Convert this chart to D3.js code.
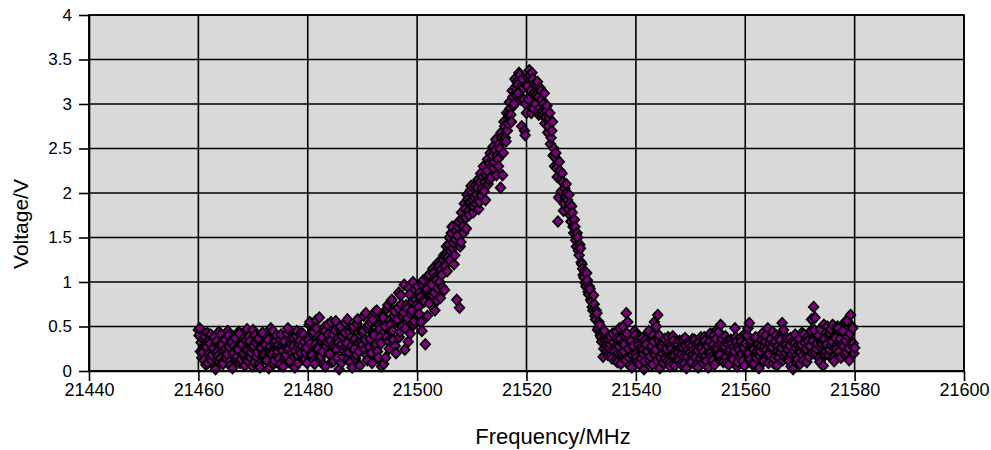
<!DOCTYPE html>
<html>
<head>
<meta charset="utf-8">
<script src="https://cdn.jsdelivr.net/npm/d3@7"></script>
<style>
  html, body { margin: 0; padding: 0; background: #fff; }
  svg { display: block; font-family: "Liberation Sans", Arial, sans-serif; }
</style>
</head>
<body>
<svg id="chart" width="991" height="450"></svg>
<script>
// ---- data ----
const xTickValues = [21440, 21460, 21480, 21500, 21520, 21540, 21560, 21580, 21600];
const yTickValues = [0, 0.5, 1, 1.5, 2, 2.5, 3, 3.5, 4];
// sweep A: samples at 21460, 21460.25, ... 21580 MHz
const sweepAStart = 21460, sweepStep = 0.25;
const voltageA = [
  0.46,0.48,0.32,0.21,0.12,0.38,0.27,0.09,0.35,0.41,
  0.18,0.26,0.05,0.31,0.22,0.44,0.14,0.29,0.08,0.36,
  0.25,0.19,0.40,0.11,0.33,0.03,0.28,0.37,0.16,0.24,
  0.42,0.13,0.30,0.20,0.06,0.34,0.23,0.39,0.15,0.27,
  0.46,0.10,0.32,0.21,0.37,0.04,0.26,0.43,0.17,0.29,
  0.12,0.35,0.24,0.48,0.19,0.08,0.31,0.40,0.22,0.14,
  0.36,0.27,0.05,0.33,0.18,0.42,0.25,0.11,0.30,0.38,
  0.16,0.23,0.45,0.09,0.34,0.20,0.28,0.41,0.13,0.26,
  0.37,
  0.52,0.31,0.18,0.44,0.08,0.57,0.26,0.39,0.13,0.35,
  0.22,0.49,0.05,0.33,0.41,0.19,0.55,0.28,0.11,0.46,
  0.24,0.37,0.02,0.50,0.30,0.16,0.43,0.27,0.58,0.21,
  0.10,0.38,0.47,0.25,0.14,0.53,0.32,0.06,0.45,0.29,
  0.62,0.35,0.18,0.48,0.27,0.55,0.09,0.41,0.66,0.30,
  0.22,0.51,0.38,0.05,0.60,0.44,0.15,0.70,0.33,0.57,
  0.78,0.45,0.62,0.28,0.55,0.71,0.38,0.85,0.50,0.66,
  0.24,0.74,0.59,0.93,0.42,0.68,1.00,0.56,0.80,0.63,
  0.72,0.88,0.55,0.97,0.80,0.30,0.92,1.05,0.76,0.99,
  0.85,1.10,0.68,1.02,0.93,1.18,0.82,1.08,1.25,0.91,
  1.30,1.12,1.42,1.25,1.55,1.38,1.20,1.48,0.80,1.62,
  0.71,1.45,1.70,1.55,1.82,1.60,1.93,1.75,2.03,1.85,
  1.78,1.95,1.88,2.06,1.82,2.12,1.97,2.18,2.02,1.92,
  2.25,2.10,2.33,2.17,2.42,2.28,2.48,2.20,2.38,2.55,
  2.06,2.62,2.45,2.75,2.58,2.70,2.88,2.95,2.80,3.08,
  3.00,3.18,3.25,3.12,3.33,3.20,3.28,3.05,2.65,2.90,
  3.30,3.38,3.15,3.35,2.95,3.22,3.10,3.25,2.88,3.18,
  3.05,2.92,3.12,2.85,2.98,2.75,2.90,2.62,2.80,2.50,
  2.40,2.28,1.68,2.35,2.15,2.22,1.80,2.05,2.10,1.92,
  1.98,1.75,1.85,1.62,1.70,1.47,1.55,1.35,1.42,1.22,
  1.15,1.05,0.99,1.10,0.89,0.95,0.80,0.72,0.85,0.62,
  0.68,0.46,0.55,0.40,0.33,0.16,0.45,0.28,0.22,0.35,
  0.30,0.18,0.42,0.25,0.12,0.36,0.20,0.48,0.08,0.31,
  0.22,0.40,0.65,0.55,0.15,0.33,0.04,0.27,0.45,0.19,
  0.10,0.29,0.38,0.14,0.24,0.02,0.35,0.21,0.43,0.12,
  0.26,0.07,0.33,0.18,0.50,0.63,0.40,0.15,0.28,0.09,
  0.36,0.22,0.11,0.31,0.05,0.25,0.39,0.17,0.29,0.13,
  0.21,0.34,0.08,0.27,0.16,0.37,0.03,0.24,0.30,0.12,
  0.28,0.19,0.35,0.06,0.23,0.32,0.14,0.26,0.09,0.38,
  0.17,0.29,0.04,0.33,0.21,0.12,0.40,0.25,0.46,0.18,
  0.30,0.52,0.36,0.10,0.27,0.15,0.34,0.07,0.24,0.31,
  0.13,0.22,0.38,0.05,0.28,0.17,0.33,0.11,0.26,0.42,
  0.20,0.48,0.54,0.31,0.08,0.24,0.36,0.15,0.29,0.03,
  0.22,0.35,0.12,0.27,0.40,0.18,0.09,0.31,0.25,0.44,
  0.14,0.33,0.06,0.28,0.38,0.21,0.54,0.46,0.16,0.30,
  0.24,0.11,0.37,0.19,0.02,0.32,0.26,0.13,0.35,0.08,
  0.29,0.17,0.41,0.23,0.10,0.34,0.27,0.45,0.20,0.72,
  0.60,0.25,0.38,0.14,0.47,0.31,0.06,0.36,0.22,0.50,
  0.18,0.42,0.29,0.52,0.11,0.37,0.25,0.48,0.33,0.15,
  0.44,0.28,0.55,0.21,0.39,0.12,0.63,0.50,0.31,0.26
];
// sweep B: samples at 21460.125, 21460.375, ... 21579.875 MHz
const sweepBStart = 21460.125;
const voltageB = [
  0.40,0.22,0.15,0.36,0.28,0.07,0.43,0.19,0.31,0.12,
  0.25,0.38,0.02,0.34,0.17,0.29,0.41,0.10,0.23,0.35,
  0.14,0.45,0.27,0.06,0.32,0.20,0.39,0.13,0.26,0.44,
  0.09,0.30,0.18,0.37,0.24,0.47,0.11,0.33,0.21,0.05,
  0.28,0.40,0.16,0.35,0.08,0.25,0.42,0.19,0.31,0.14,
  0.38,0.03,0.27,0.22,0.45,0.12,0.34,0.18,0.29,0.07,
  0.41,0.23,0.32,0.15,0.26,0.48,0.10,0.36,0.20,0.28,
  0.04,0.39,0.17,0.30,0.24,0.43,0.13,0.33,0.21,0.09,
  0.35,0.55,0.20,0.42,0.12,0.30,0.48,0.25,0.60,0.16,
  0.38,0.07,0.45,0.28,0.52,0.19,0.34,0.10,0.41,0.26,
  0.56,0.15,0.32,0.47,0.09,0.39,0.23,0.54,0.31,0.13,
  0.44,0.27,0.04,0.50,0.36,0.18,0.58,0.22,0.40,0.33,
  0.45,0.24,0.65,0.12,0.52,0.36,0.20,0.58,0.40,0.28,
  0.68,0.15,0.47,0.31,0.62,0.08,0.50,0.38,0.74,0.25,
  0.52,0.80,0.35,0.67,0.20,0.58,0.88,0.44,0.75,0.61,
  0.97,0.48,0.70,0.33,0.86,0.64,0.78,0.52,0.92,0.74,
  0.95,0.64,0.83,0.45,1.02,0.78,0.90,0.62,1.08,0.87,
  0.97,1.15,0.88,1.05,0.79,1.22,1.00,1.14,0.94,1.30,
  1.18,1.40,1.28,1.50,1.35,1.62,1.44,1.30,1.58,1.52,
  1.68,1.40,1.78,1.62,1.88,1.72,1.98,1.80,1.90,2.08,
  1.92,1.85,2.08,1.98,2.15,1.90,2.22,2.05,2.30,2.12,
  2.20,2.38,2.15,2.45,2.30,2.52,2.35,2.60,2.42,2.30,
  2.50,2.68,2.20,2.80,2.62,2.90,2.78,3.02,2.88,3.15,
  2.98,3.28,3.10,3.22,3.35,3.05,2.75,3.18,2.70,3.00,
  3.20,3.05,3.32,2.90,3.28,3.12,3.00,3.20,3.08,2.95,
  3.15,2.88,3.00,2.78,2.92,2.68,2.84,2.55,2.70,2.42,
  2.30,2.45,2.18,1.95,2.25,2.02,2.12,1.88,1.95,2.00,
  1.82,1.88,1.68,1.78,1.55,1.62,1.40,1.50,1.30,1.38,
  1.20,1.08,1.12,0.95,1.02,0.86,0.92,0.78,0.68,0.75,
  0.58,0.65,0.48,0.52,0.38,0.44,0.25,0.34,0.30,0.18,
  0.26,0.38,0.14,0.32,0.22,0.44,0.10,0.28,0.36,0.20,
  0.50,0.30,0.12,0.42,0.25,0.06,0.34,0.18,0.28,0.40,
  0.15,0.33,0.08,0.26,0.37,0.19,0.11,0.30,0.22,0.45,
  0.16,0.28,0.40,0.55,0.24,0.12,0.35,0.03,0.27,0.20,
  0.32,0.14,0.25,0.38,0.09,0.29,0.18,0.34,0.06,0.23,
  0.30,0.12,0.26,0.19,0.35,0.08,0.28,0.16,0.33,0.21,
  0.10,0.36,0.24,0.15,0.31,0.04,0.27,0.38,0.18,0.22,
  0.34,0.11,0.28,0.20,0.42,0.16,0.30,0.07,0.36,0.25,
  0.44,0.18,0.32,0.13,0.26,0.39,0.09,0.30,0.21,0.35,
  0.15,0.27,0.48,0.33,0.10,0.24,0.37,0.19,0.29,0.06,
  0.31,0.40,0.20,0.13,0.34,0.26,0.08,0.38,0.22,0.30,
  0.17,0.28,0.42,0.11,0.33,0.24,0.48,0.19,0.36,0.27,
  0.09,0.31,0.40,0.22,0.15,0.35,0.26,0.12,0.30,0.20,
  0.37,0.14,0.28,0.05,0.33,0.23,0.41,0.17,0.29,0.36,
  0.21,0.43,0.12,0.32,0.25,0.38,0.16,0.28,0.58,0.34,
  0.46,0.20,0.31,0.40,0.10,0.27,0.35,0.52,0.18,0.30,
  0.41,0.24,0.47,0.33,0.15,0.39,0.28,0.50,0.22,0.36,
  0.29,0.45,0.19,0.34,0.56,0.25,0.42,0.30,0.48,0.20
];
const xTitle = "Frequency/MHz";
const yTitle = "Voltage/V";

// ---- layout ----
const plot = { left: 89, top: 15, right: 964, bottom: 371 };

const svg = d3.select("#chart");
const x = d3.scaleLinear().domain([21440, 21600]).range([plot.left, plot.right]);
const y = d3.scaleLinear().domain([0, 4]).range([plot.bottom, plot.top]);

const points = [
  ...voltageA.map((v, i) => ({ f: sweepAStart + i * sweepStep, v })),
  ...voltageB.map((v, i) => ({ f: sweepBStart + i * sweepStep, v }))
].sort((a, b) => a.f - b.f);

// plot background
svg.append("rect")
  .attr("x", plot.left).attr("y", plot.top)
  .attr("width", plot.right - plot.left).attr("height", plot.bottom - plot.top)
  .attr("fill", "#d9d9d9");

// gridlines
const grid = svg.append("g").attr("stroke", "#000").attr("stroke-width", 1.6);
grid.selectAll("line.h").data(yTickValues).join("line")
  .attr("x1", plot.left).attr("x2", plot.right)
  .attr("y1", d => y(d)).attr("y2", d => y(d));
grid.selectAll("line.v").data(xTickValues).join("line")
  .attr("y1", plot.top).attr("y2", plot.bottom)
  .attr("x1", d => x(d)).attr("x2", d => x(d));

// axes (tick marks + labels)
const xAxis = d3.axisBottom(x).tickValues(xTickValues).tickSize(10).tickSizeOuter(0)
  .tickFormat(d3.format("d"));
const yAxis = d3.axisLeft(y).tickValues(yTickValues).tickSize(10).tickSizeOuter(0)
  .tickFormat(d => String(d));

const gx = svg.append("g").attr("transform", `translate(0,${plot.bottom})`).call(xAxis);
const gy = svg.append("g").attr("transform", `translate(${plot.left},0)`).call(yAxis);
[gx, gy].forEach(g => {
  g.select(".domain").attr("stroke", "#000").attr("stroke-width", 1.6);
  g.selectAll(".tick line").attr("stroke", "#000").attr("stroke-width", 1.6);
  g.selectAll(".tick text").attr("fill", "#000").attr("font-family", "Liberation Sans, Arial, sans-serif");
});
gx.selectAll(".tick text").attr("font-size", 18).attr("dy", "0.71em").attr("y", 12);
gy.selectAll(".tick text").attr("font-size", 17).attr("x", -17);

// markers
const diamond = "M0,-5.2L4.8,0L0,5.2L-4.8,0Z";
svg.append("g").selectAll("path").data(points).join("path")
  .attr("d", diamond)
  .attr("transform", d => `translate(${x(d.f)},${y(d.v)})`)
  .attr("fill", "#800080")
  .attr("stroke", "#000")
  .attr("stroke-width", 1.8)
  .attr("stroke-linejoin", "miter");

// plot border
svg.append("rect")
  .attr("x", plot.left).attr("y", plot.top)
  .attr("width", plot.right - plot.left).attr("height", plot.bottom - plot.top)
  .attr("fill", "none").attr("stroke", "#000").attr("stroke-width", 1.6);

// axis titles
svg.append("text")
  .attr("x", 553).attr("y", 444)
  .attr("text-anchor", "middle")
  .attr("font-size", 22)
  .attr("fill", "#000")
  .text(xTitle);
svg.append("text")
  .attr("transform", `translate(28,224) rotate(-90)`)
  .attr("text-anchor", "middle")
  .attr("font-size", 21)
  .attr("fill", "#000")
  .text(yTitle);
</script>
</body>
</html>
